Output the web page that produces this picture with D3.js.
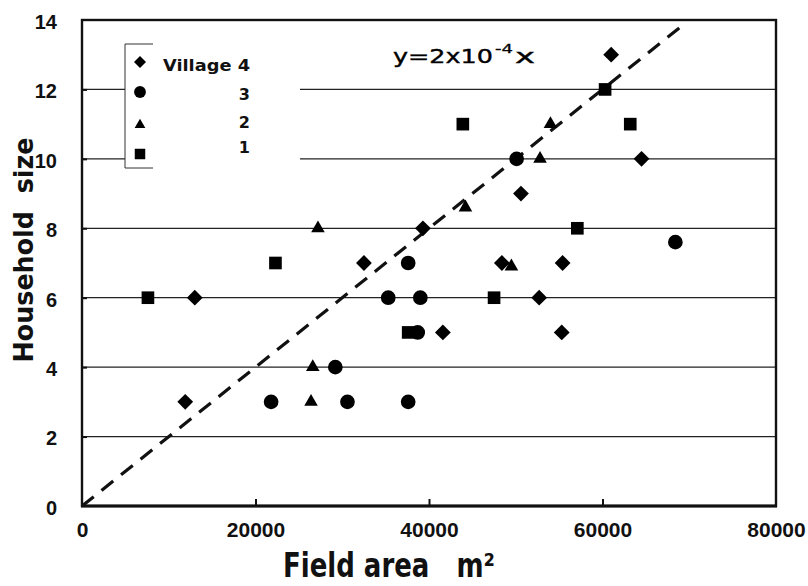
<!DOCTYPE html>
<html><head><meta charset="utf-8">
<script src="https://cdn.jsdelivr.net/npm/d3@7/dist/d3.min.js"></script>
<style>body{margin:0;background:#fff;}svg{display:block;}</style>
</head><body>
<svg id="chart" width="808" height="586"></svg>
<script>
// ---- data ----
const village4 = [[11900,3],[13000,6],[32500,7],[39300,8],[41600,5],[48400,7],[50600,9],[52700,6],[55400,7],[55300,5],[61000,13],[64500,10]];
const village3 = [[21800,3],[29200,4],[30600,3],[35300,6],[37600,7],[39000,6],[37600,3],[38700,5],[50100,10],[68400,7.6]];
const village2 = [[27200,8],[26600,4],[26400,3],[54000,11],[52800,10],[44200,8.6],[49500,6.9]];
const village1 = [[7600,6],[22300,7],[43900,11],[63200,11],[57100,8],[47500,6],[37600,5],[60300,12]];
const xTicks = [0,20000,40000,60000,80000];
const yTicks = [0,2,4,6,8,10,12,14];
const legendLabels = ["Village 4","3","2","1"];
const slope = 2e-4, lineEndX = 69500;

const svg = d3.select("#chart");
const x = d3.scaleLinear().domain([0,80000]).range([82,776]);
const y = d3.scaleLinear().domain([0,14]).range([506,20]);

// gridlines
svg.append("g").selectAll("line").data(yTicks.filter(d=>d>0&&d<14)).join("line")
  .attr("x1",x(0)).attr("x2",x(80000)).attr("y1",d=>y(d)).attr("y2",d=>y(d))
  .attr("stroke","#222").attr("stroke-width",1.2);

// legend box (covers gridlines)
const lg = svg.append("g");
lg.append("rect").attr("x",125).attr("y",44).attr("width",175).attr("height",124).attr("fill","#fff");
lg.append("line").attr("x1",125).attr("x2",125).attr("y1",44).attr("y2",168).attr("stroke","#333").attr("stroke-width",1);
lg.append("line").attr("x1",125).attr("x2",153).attr("y1",44).attr("y2",44).attr("stroke","#333").attr("stroke-width",1);
lg.append("line").attr("x1",125).attr("x2",153).attr("y1",168).attr("y2",168).attr("stroke","#333").attr("stroke-width",1);

// frame
svg.append("rect").attr("x",x(0)).attr("y",y(14)).attr("width",x(80000)-x(0)).attr("height",y(0)-y(14))
  .attr("fill","none").attr("stroke","#111").attr("stroke-width",2.4);
svg.append("line").attr("x1",x(0)-1).attr("x2",x(80000)+1).attr("y1",y(0)).attr("y2",y(0)).attr("stroke","#111").attr("stroke-width",3.2);

// axes
const xAxis = svg.append("g").attr("transform",`translate(0,${y(0)})`)
  .call(d3.axisBottom(x).tickValues(xTicks).tickFormat(d3.format("d")).tickSize(-7).tickPadding(31));
xAxis.select(".domain").remove();
xAxis.selectAll(".tick line").attr("stroke","#111").attr("stroke-width",2)
  .attr("display",d=>(d===0||d===80000)?"none":null);
xAxis.selectAll("text").attr("font-family","Liberation Sans, Arial, sans-serif").attr("font-weight","bold")
  .attr("font-size","21px").attr("fill","#111").attr("dy","0");

const yAxis = svg.append("g").attr("transform",`translate(${x(0)},0)`)
  .call(d3.axisLeft(y).tickValues(yTicks).tickFormat(d3.format("d")).tickSize(-5).tickPadding(25));
yAxis.select(".domain").remove();
yAxis.selectAll(".tick line").attr("stroke","#111").attr("stroke-width",2)
  .attr("display",d=>(d===0||d===14)?"none":null);
yAxis.selectAll("text").attr("font-family","Liberation Sans, Arial, sans-serif").attr("font-weight","bold")
  .attr("font-size","20px").attr("fill","#111").attr("dy","0.42em");

// dashed line y = 2e-4 x
svg.append("line").attr("x1",x(0)).attr("y1",y(0)).attr("x2",x(lineEndX)).attr("y2",y(slope*lineEndX))
  .attr("stroke","#111").attr("stroke-width",3.2).attr("stroke-dasharray","15,10");

// markers
const sym = {
  d: d3.symbol().type(d3.symbolSquare).size(125),
  c: d3.symbol().type(d3.symbolCircle).size(170),
  t: d3.symbol().type(d3.symbolTriangle).size(80),
  s: d3.symbol().type(d3.symbolSquare).size(160)
};
function plot(data, key, rot){
  svg.append("g").selectAll("path").data(data).join("path")
    .attr("d", sym[key]())
    .attr("transform", d=>`translate(${x(d[0])},${y(d[1])})${rot?" rotate(45)":""}`)
    .attr("fill","#000");
}
plot(village4,"d",true);
plot(village3,"c",false);
plot(village2,"t",false);
plot(village1,"s",false);

// legend entries
const legSym = [
  {p:d3.symbol().type(d3.symbolSquare).size(72)(), rot:true, y:62},
  {p:d3.symbol().type(d3.symbolCircle).size(110)(), rot:false, y:92},
  {p:d3.symbol().type(d3.symbolTriangle).size(50)(), rot:false, y:125},
  {p:d3.symbol().type(d3.symbolSquare).size(110)(), rot:false, y:154}
];
const textBase = [71,100,128,153];
legSym.forEach((s,i)=>{
  lg.append("path").attr("d",s.p).attr("fill","#000")
    .attr("transform",`translate(140,${s.y})${s.rot?" rotate(45)":""}`);
  const t = lg.append("text").attr("x",250).attr("y",textBase[i]).attr("text-anchor","end")
    .attr("font-family","DejaVu Sans, sans-serif").attr("font-weight","bold").attr("font-size","16px")
    .attr("fill","#111").text(legendLabels[i]);
  if(i===0) t.attr("x",163).attr("text-anchor","start").attr("textLength",87).attr("lengthAdjust","spacingAndGlyphs");
});

// equation
const eqFont = "DejaVu Sans, sans-serif";
svg.append("text").attr("x",393).attr("y",63).attr("font-family",eqFont).attr("font-size","20px")
  .attr("fill","#000").attr("stroke","#000").attr("stroke-width",0.4)
  .attr("textLength",100).attr("lengthAdjust","spacingAndGlyphs").text("y=2x10");
svg.append("text").attr("x",495).attr("y",53).attr("font-family",eqFont).attr("font-size","13px")
  .attr("fill","#000").attr("stroke","#000").attr("stroke-width",0.3)
  .attr("textLength",18).attr("lengthAdjust","spacingAndGlyphs").text("-4");
svg.append("text").attr("x",515).attr("y",63).attr("font-family",eqFont).attr("font-size","20px")
  .attr("fill","#000").attr("stroke","#000").attr("stroke-width",0.4)
  .attr("textLength",20).attr("lengthAdjust","spacingAndGlyphs").text("x");

// axis titles
svg.append("text").attr("x",283).attr("y",577).attr("font-family","DejaVu Sans, sans-serif")
  .attr("font-weight","bold").attr("font-size","33px").attr("fill","#111")
  .attr("textLength",212).attr("lengthAdjust","spacingAndGlyphs").text("Field area\u00a0\u00a0 m\u00b2");
svg.append("text").attr("transform","translate(33,250) rotate(-90)").attr("text-anchor","middle")
  .attr("font-family","DejaVu Sans, sans-serif").attr("font-weight","bold").attr("font-size","26px")
  .attr("fill","#111").attr("textLength",225).attr("lengthAdjust","spacingAndGlyphs").text("Household\u00a0 size");
</script>
</body></html>
